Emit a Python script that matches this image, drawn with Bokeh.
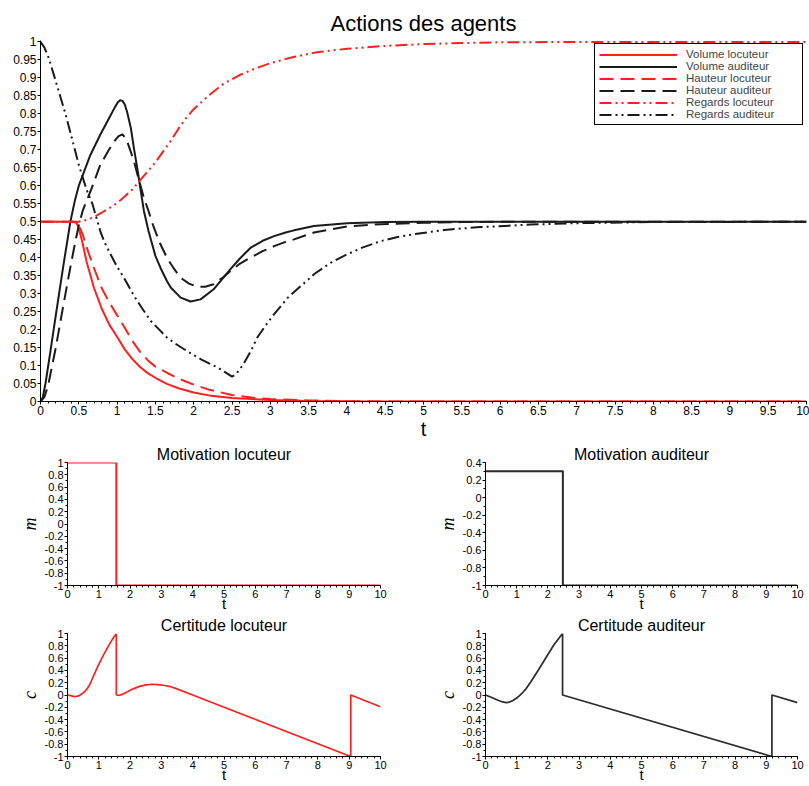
from bokeh.plotting import figure
from bokeh.layouts import column, row
from bokeh.models import Range1d, FixedTicker, CustomJSTickFormatter
from bokeh.embed import file_html
from bokeh.resources import INLINE

# ---------------- data : main chart ----------------
t_vol_loc = [0, 0.42, 0.47, 0.5, 0.55, 0.6, 0.7, 0.8, 0.9, 1.0, 1.1, 1.2, 1.3, 1.4, 1.5, 1.65, 1.8, 2.0, 2.2, 2.5, 3.0, 3.5, 4.0, 10]
v_vol_loc = [0.5, 0.5, 0.497, 0.482, 0.44, 0.39, 0.315, 0.258, 0.213, 0.18, 0.145, 0.118, 0.096, 0.079, 0.066, 0.049, 0.037, 0.025, 0.017, 0.01, 0.004, 0.0015, 0.0005, 0]

t_vol_aud = [0, 0.03, 0.065, 0.13, 0.2, 0.3, 0.39, 0.45, 0.5, 0.57, 0.65, 0.78, 0.9, 0.97, 1.01, 1.04, 1.07, 1.1, 1.13, 1.18, 1.22, 1.27, 1.31, 1.35, 1.41, 1.5, 1.57, 1.65, 1.7, 1.83, 1.96, 2.09, 2.26, 2.48, 2.6, 2.74, 2.9, 3.05, 3.2, 3.31, 3.57, 4.0, 4.5, 5.0, 10]
v_vol_aud = [0, 0.012, 0.05, 0.14, 0.24, 0.38, 0.5, 0.56, 0.6, 0.64, 0.685, 0.742, 0.79, 0.818, 0.832, 0.838, 0.836, 0.826, 0.806, 0.76, 0.704, 0.64, 0.584, 0.53, 0.474, 0.405, 0.37, 0.335, 0.317, 0.289, 0.278, 0.284, 0.312, 0.368, 0.397, 0.427, 0.447, 0.46, 0.47, 0.476, 0.488, 0.496, 0.499, 0.5, 0.5]

t_haut_loc = [0, 0.42, 0.47, 0.5, 0.55, 0.6, 0.7, 0.8, 0.9, 1.0, 1.1, 1.2, 1.3, 1.4, 1.5, 1.65, 1.8, 2.0, 2.2, 2.5, 2.8, 3.0, 3.5, 4.0, 4.5, 10]
v_haut_loc = [0.5, 0.5, 0.498, 0.49, 0.465, 0.43, 0.37, 0.315, 0.275, 0.24, 0.205, 0.168, 0.138, 0.115, 0.097, 0.08, 0.064, 0.047, 0.033, 0.018, 0.01, 0.007, 0.003, 0.001, 0, 0]

t_haut_aud = [0, 0.05, 0.1, 0.2, 0.3, 0.4, 0.46, 0.5, 0.55, 0.67, 0.78, 0.88, 0.96, 1.02, 1.07, 1.12, 1.17, 1.22, 1.28, 1.35, 1.41, 1.47, 1.56, 1.65, 1.74, 1.83, 1.94, 2.05, 2.15, 2.26, 2.37, 2.48, 2.6, 2.74, 2.9, 3.05, 3.2, 3.31, 3.57, 4.0, 4.44, 5.0, 5.5, 6.0, 10]
v_haut_aud = [0, 0.012, 0.045, 0.15, 0.27, 0.385, 0.45, 0.49, 0.53, 0.594, 0.658, 0.695, 0.723, 0.738, 0.743, 0.73, 0.7, 0.668, 0.62, 0.566, 0.53, 0.49, 0.44, 0.4, 0.37, 0.344, 0.328, 0.319, 0.319, 0.326, 0.343, 0.363, 0.383, 0.4, 0.418, 0.432, 0.444, 0.451, 0.47, 0.487, 0.493, 0.497, 0.499, 0.5, 0.5]

t_reg_loc = [0, 0.5, 0.6, 0.7, 0.8, 0.9, 1.0, 1.1, 1.2, 1.3, 1.4, 1.5, 1.6, 1.7, 1.8, 1.9, 2.0, 2.2, 2.4, 2.6, 2.8, 3.0, 3.3, 3.6, 4.0, 4.5, 5.0, 5.5, 6.0, 7.0, 10]
v_reg_loc = [0.5, 0.5, 0.505, 0.513, 0.525, 0.538, 0.552, 0.57, 0.59, 0.615, 0.64, 0.665, 0.695, 0.725, 0.758, 0.788, 0.813, 0.852, 0.885, 0.908, 0.926, 0.941, 0.958, 0.971, 0.981, 0.989, 0.994, 0.997, 0.999, 1.0, 1.0]

t_reg_aud = [0, 0.05, 0.11, 0.2, 0.33, 0.4, 0.5, 0.6, 0.68, 0.78, 0.83, 0.9, 1.0, 1.1, 1.22, 1.33, 1.44, 1.55, 1.65, 1.76, 1.87, 2.0, 2.09, 2.2, 2.31, 2.4, 2.5, 2.55, 2.65, 2.75, 2.83, 2.95, 3.05, 3.13, 3.22, 3.35, 3.5, 3.57, 3.79, 4.0, 4.2, 4.44, 4.65, 4.87, 5.1, 5.31, 5.74, 6.4, 7.0, 8.0, 10]
v_reg_aud = [1.0, 0.985, 0.954, 0.89, 0.797, 0.74, 0.658, 0.59, 0.548, 0.474, 0.446, 0.415, 0.375, 0.34, 0.294, 0.258, 0.224, 0.2, 0.178, 0.161, 0.146, 0.129, 0.118, 0.106, 0.095, 0.083, 0.069, 0.075, 0.104, 0.142, 0.178, 0.215, 0.243, 0.263, 0.287, 0.312, 0.34, 0.354, 0.386, 0.409, 0.428, 0.446, 0.457, 0.465, 0.472, 0.478, 0.485, 0.492, 0.496, 0.499, 0.5]

# ---------------- data : small charts ----------------
t_mot_loc = [0, 1.56, 1.56, 10]
m_mot_loc = [1, 1, -1, -1]
t_mot_aud = [0, 2.48, 2.48, 10]
m_mot_aud = [0.3, 0.3, -1, -1]

t_cert_loc = [0, 0.1, 0.2, 0.27, 0.35, 0.45, 0.5, 0.57, 0.64, 0.7, 0.75, 0.85, 0.95, 1.06, 1.17, 1.28, 1.38, 1.47, 1.56,
              1.56, 1.65, 1.75, 1.9, 2.1, 2.3, 2.5, 2.7, 2.9, 3.1, 3.3, 3.5, 4.0, 9.05, 9.05, 10]
c_cert_loc = [0, -0.01, -0.022, -0.025, -0.015, 0.015, 0.035, 0.065, 0.11, 0.16, 0.215, 0.33, 0.445, 0.56, 0.67, 0.77, 0.86, 0.935, 0.995,
              0.0, -0.005, 0.01, 0.05, 0.1, 0.14, 0.165, 0.175, 0.17, 0.155, 0.135, 0.099, 0.0, -1.0, 0.0, -0.19]

t_cert_aud = [0, 0.2, 0.4, 0.55, 0.66, 0.77, 0.88, 1.0, 1.1, 1.2, 1.3, 1.46, 1.7, 1.99, 2.2, 2.47, 2.47, 9.18, 9.18, 10]
c_cert_aud = [0, -0.04, -0.085, -0.113, -0.123, -0.115, -0.09, -0.05, -0.005, 0.045, 0.1, 0.22, 0.41, 0.65, 0.82, 1.0, 0.0, -1.0, 0.0, -0.123]

# ---------------- ticks ----------------
main_x_ticks = [0, 0.5, 1, 1.5, 2, 2.5, 3, 3.5, 4, 4.5, 5, 5.5, 6, 6.5, 7, 7.5, 8, 8.5, 9, 9.5, 10]
main_x_minor = [i / 10 for i in range(0, 101)]
main_y_ticks = [0, 0.05, 0.1, 0.15, 0.2, 0.25, 0.3, 0.35, 0.4, 0.45, 0.5, 0.55, 0.6, 0.65, 0.7, 0.75, 0.8, 0.85, 0.9, 0.95, 1]
small_x_ticks = [0, 1, 2, 3, 4, 5, 6, 7, 8, 9, 10]
small_x_minor = [i / 5 for i in range(0, 51)]
small_y_ticks = [-1, -0.8, -0.6, -0.4, -0.2, 0, 0.2, 0.4, 0.6, 0.8, 1]
small_y_minor = [i / 10 - 1 for i in range(0, 21)]
aud_y_ticks = [-1, -0.8, -0.6, -0.4, -0.2, 0, 0.2, 0.4]
aud_y_minor = [i / 10 - 1 for i in range(0, 15)]

RED = "#ff1f1f"
BLACK = "#1a1a1a"
FONT = "Liberation Sans"

fmt_code = "return String(parseFloat(tick.toFixed(2)));"


def style(fig, xt, xm, yt, ym, tick_px, xlabel, xlabel_px, xlabel_standoff, ylabel, ylabel_px, title_px):
    fig.outline_line_color = None
    fig.xgrid.visible = False
    fig.ygrid.visible = False
    fig.background_fill_color = "white"
    fig.border_fill_color = "white"
    fig.title.text_font = FONT
    fig.title.text_font_size = title_px
    fig.title.text_font_style = "normal"
    fig.title.align = "center"
    fig.title.text_color = "black"
    fig.xaxis.ticker = FixedTicker(ticks=xt, minor_ticks=xm)
    fig.yaxis.ticker = FixedTicker(ticks=yt, minor_ticks=ym)
    for ax in (fig.xaxis[0], fig.yaxis[0]):
        ax.formatter = CustomJSTickFormatter(code=fmt_code)
        ax.major_label_text_font = FONT
        ax.major_label_text_font_size = tick_px
        ax.major_label_text_color = "black"
        ax.axis_line_color = "black"
        ax.major_tick_line_color = "black"
        ax.minor_tick_line_color = "black"
        ax.major_tick_out = 3
        ax.major_tick_in = 0
        ax.minor_tick_out = 2
        ax.minor_tick_in = 0
        ax.major_label_standoff = 1
    fig.xaxis.axis_label = xlabel
    fig.xaxis.axis_label_text_font = FONT
    fig.xaxis.axis_label_text_font_style = "normal"
    fig.xaxis.axis_label_text_font_size = xlabel_px
    fig.xaxis.axis_label_text_color = "black"
    fig.xaxis.axis_label_standoff = xlabel_standoff
    if ylabel:
        fig.yaxis.axis_label = ylabel
        fig.yaxis.axis_label_text_font = "Liberation Serif"
        fig.yaxis.axis_label_text_font_style = "italic"
        fig.yaxis.axis_label_text_font_size = ylabel_px
        fig.yaxis.axis_label_text_color = "black"
        fig.yaxis.axis_label_standoff = 2


# ---------------- main chart ----------------
p = figure(title="Actions des agents", frame_width=766, frame_height=361,
           min_border_left=40, min_border_right=3, min_border_top=40, min_border_bottom=42,
           x_range=Range1d(0, 10), y_range=Range1d(0, 1.004),
           output_backend="svg", toolbar_location=None)
style(p, main_x_ticks, main_x_minor, main_y_ticks, [], "12px", "t", "20px", 0, None, None, "22px")
p.title.standoff = 9

p.line(t_vol_loc, v_vol_loc, color=RED, line_width=2, legend_label="Volume locuteur")
p.line(t_vol_aud, v_vol_aud, color=BLACK, line_width=2, legend_label="Volume auditeur")
p.line(t_haut_loc, v_haut_loc, color=RED, line_width=2, line_dash="14 7", legend_label="Hauteur locuteur")
p.line(t_haut_aud, v_haut_aud, color=BLACK, line_width=2, line_dash="14 7", legend_label="Hauteur auditeur")
p.line(t_reg_loc, v_reg_loc, color=RED, line_width=2, line_dash="12 4 2 4 2 4", legend_label="Regards locuteur")
p.line(t_reg_aud, v_reg_aud, color=BLACK, line_width=2, line_dash="12 4 2 4 2 4", legend_label="Regards auditeur")

lg = p.legend[0]
lg.location = "top_right"
lg.margin = 3
lg.padding = 4
lg.spacing = 0
lg.glyph_width = 78
lg.glyph_height = 11
lg.label_height = 11
lg.label_width = 112
lg.label_standoff = 9
lg.label_text_font = FONT
lg.label_text_font_size = "11.5px"
lg.border_line_color = "black"
lg.border_line_width = 1
lg.border_line_alpha = 1
lg.background_fill_alpha = 1


def small(title, t, y, color, yr, yt, ym, ylabel, left, right, top, width_line=2):
    f = figure(title=title, frame_width=(313 if left == 67 else 312), frame_height=123,
               min_border_left=left, min_border_right=right, min_border_top=top, min_border_bottom=0,
               x_range=Range1d(0, 10), y_range=Range1d(*yr),
               output_backend="svg", toolbar_location=None)
    style(f, small_x_ticks, small_x_minor, yt, ym, "11px", "t", "15px", -6, ylabel, "18px", "16px")
    f.title.standoff = 0
    f.line(t, y, color=color, line_width=width_line)
    return f


f1 = small("Motivation locuteur", t_mot_loc, m_mot_loc, RED, (-1, 1), small_y_ticks, small_y_minor, "m", 67, 40, 18)
f2 = small("Motivation auditeur", t_mot_aud, m_mot_aud, "#2a2a2a", (-1, 0.4), aud_y_ticks, aud_y_minor, "m", 65, 8, 18)
f3 = small("Certitude locuteur", t_cert_loc, c_cert_loc, RED, (-1, 1), small_y_ticks, small_y_minor, "c", 67, 40, 18, 1.7)
f4 = small("Certitude auditeur", t_cert_aud, c_cert_aud, "#2a2a2a", (-1, 1), small_y_ticks, small_y_minor, "c", 65, 8, 18, 1.7)

layout = column(p, row(f1, f2), row(f3, f4))

open("out.html", "w").write(file_html(layout, INLINE))
